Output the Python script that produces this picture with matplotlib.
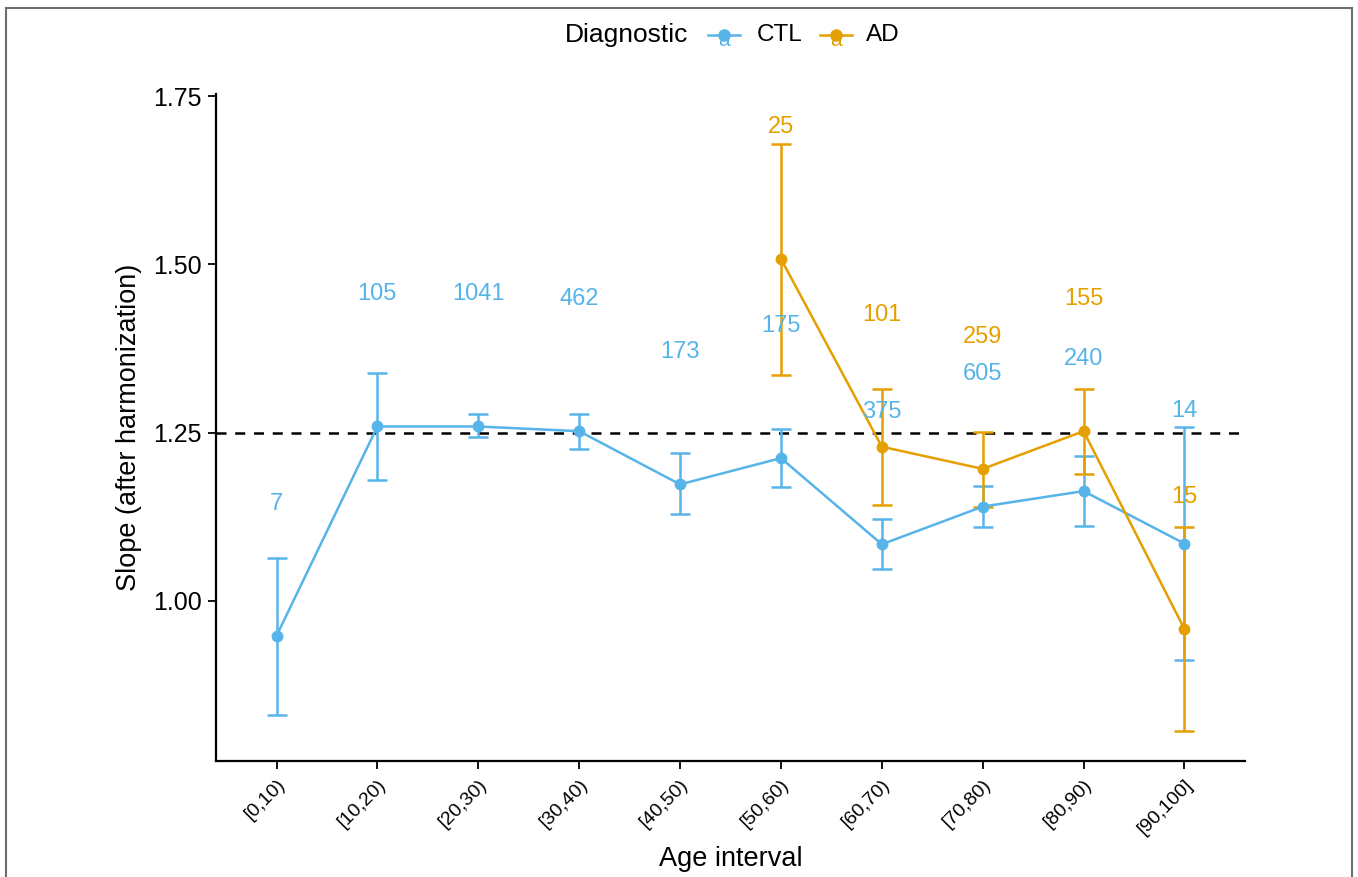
import matplotlib
matplotlib.use("Agg")
import matplotlib.pyplot as plt
from matplotlib.lines import Line2D
from matplotlib.patches import Rectangle
import numpy as np

plt.rcParams['font.family'] = ['Liberation Sans', 'DejaVu Sans']

# ---------------- data ----------------
age_intervals = ["[0,10)", "[10,20)", "[20,30)", "[30,40)", "[40,50)",
                 "[50,60)", "[60,70)", "[70,80)", "[80,90)", "[90,100]"]

ctl_mean  = [0.948, 1.259, 1.259, 1.252, 1.173, 1.212, 1.084, 1.140, 1.163, 1.085]
ctl_lower = [0.831, 1.179, 1.243, 1.226, 1.129, 1.169, 1.047, 1.109, 1.111, 0.912]
ctl_upper = [1.063, 1.339, 1.277, 1.278, 1.220, 1.255, 1.122, 1.171, 1.215, 1.258]
ctl_n     = [7, 105, 1041, 462, 173, 175, 375, 605, 240, 14]

ad_intervals = ["[50,60)", "[60,70)", "[70,80)", "[80,90)", "[90,100]"]
ad_mean  = [1.508, 1.229, 1.196, 1.252, 0.958]
ad_lower = [1.335, 1.143, 1.140, 1.188, 0.807]
ad_upper = [1.679, 1.314, 1.251, 1.315, 1.109]
ad_n     = [25, 101, 259, 155, 15]

reference_slope = 1.25
label_offset = 0.2

# ---------------- style ----------------
CTL_COLOR = "#56B4E9"
AD_COLOR = "#E69F00"
LW = 1.8

W, H = 1358, 877
fig = plt.figure(figsize=(W / 100, H / 100), dpi=100)
ax = fig.add_axes([216 / W, 1 - 761 / H, (1245 - 216) / W, (761 - 94) / H])

x_all = np.arange(len(age_intervals))
x_ad = np.array([age_intervals.index(a) for a in ad_intervals])

def draw_series(ax, x, mean, lo, hi, n, color):
    mean = np.asarray(mean)
    lo = np.asarray(lo)
    hi = np.asarray(hi)
    ax.errorbar(x, mean, yerr=[mean - lo, hi - mean], fmt='none',
                ecolor=color, elinewidth=LW, capsize=7.5, capthick=LW, zorder=3)
    ax.plot(x, mean, color=color, lw=LW, marker='o', ms=7.5, zorder=4)
    for xi, yi, ni in zip(x, mean, n):
        ax.text(xi, yi + label_offset, str(ni), color=color, fontsize=17,
                ha='center', va='center_baseline', zorder=5)

ax.axhline(reference_slope, color='black', lw=1.8, ls=(0, (4, 3.5)), zorder=2)
draw_series(ax, x_all, ctl_mean, ctl_lower, ctl_upper, ctl_n, CTL_COLOR)
draw_series(ax, x_ad, ad_mean, ad_lower, ad_upper, ad_n, AD_COLOR)

ax.set_xlim(-0.6, len(age_intervals) - 1 + 0.6)
ax.set_ylim(0.762, 1.753)
ax.set_yticks([1.00, 1.25, 1.50, 1.75])
ax.set_yticklabels(["1.00", "1.25", "1.50", "1.75"])
ax.set_xticks(x_all)
ax.set_xticklabels(age_intervals, rotation=45, ha='right', rotation_mode='anchor')

for s in ['top', 'right']:
    ax.spines[s].set_visible(False)
for s in ['left', 'bottom']:
    ax.spines[s].set_linewidth(1.6)
    ax.spines[s].set_color('black')
ax.tick_params(axis='y', labelsize=18, length=6, width=1.3, colors='black', pad=4)
ax.tick_params(axis='x', labelsize=14, length=6, width=1.3, colors='black', pad=5)

ax.set_xlabel("Age interval", fontsize=19.5, labelpad=6)
ax.set_ylabel("Slope (after harmonization)", fontsize=19.5, labelpad=8)

# ---------------- legend (top, horizontal) ----------------
ly = 1 - 35 / H
fig.text(565 / W, ly, "Diagnostic", fontsize=19, ha='left', va='center')

def legend_key(x0, x1, color, label, tx):
    fig.add_artist(Line2D([x0 / W, x1 / W], [ly, ly], color=color, lw=LW,
                          transform=fig.transFigure))
    xm = (x0 + x1) / 2
    fig.add_artist(Line2D([xm / W], [ly], color=color, marker='o', ms=8,
                          lw=0, transform=fig.transFigure))
    fig.text(xm / W, ly - 5 / H, "a", color=color, fontsize=15, ha='center',
             va='center')
    fig.text(tx / W, ly, label, fontsize=17.5, ha='left', va='center')

legend_key(708, 740, CTL_COLOR, "CTL", 757)
legend_key(820, 852, AD_COLOR, "AD", 866)

# ---------------- outer frame ----------------
fig.add_artist(Rectangle((6 / W, -0.05), (1352 - 6) / W, 1.05 - 8 / H,
                         transform=fig.transFigure, fill=False,
                         edgecolor='#6e6e6e', lw=1.5))

fig.savefig("out.png", dpi=100)
